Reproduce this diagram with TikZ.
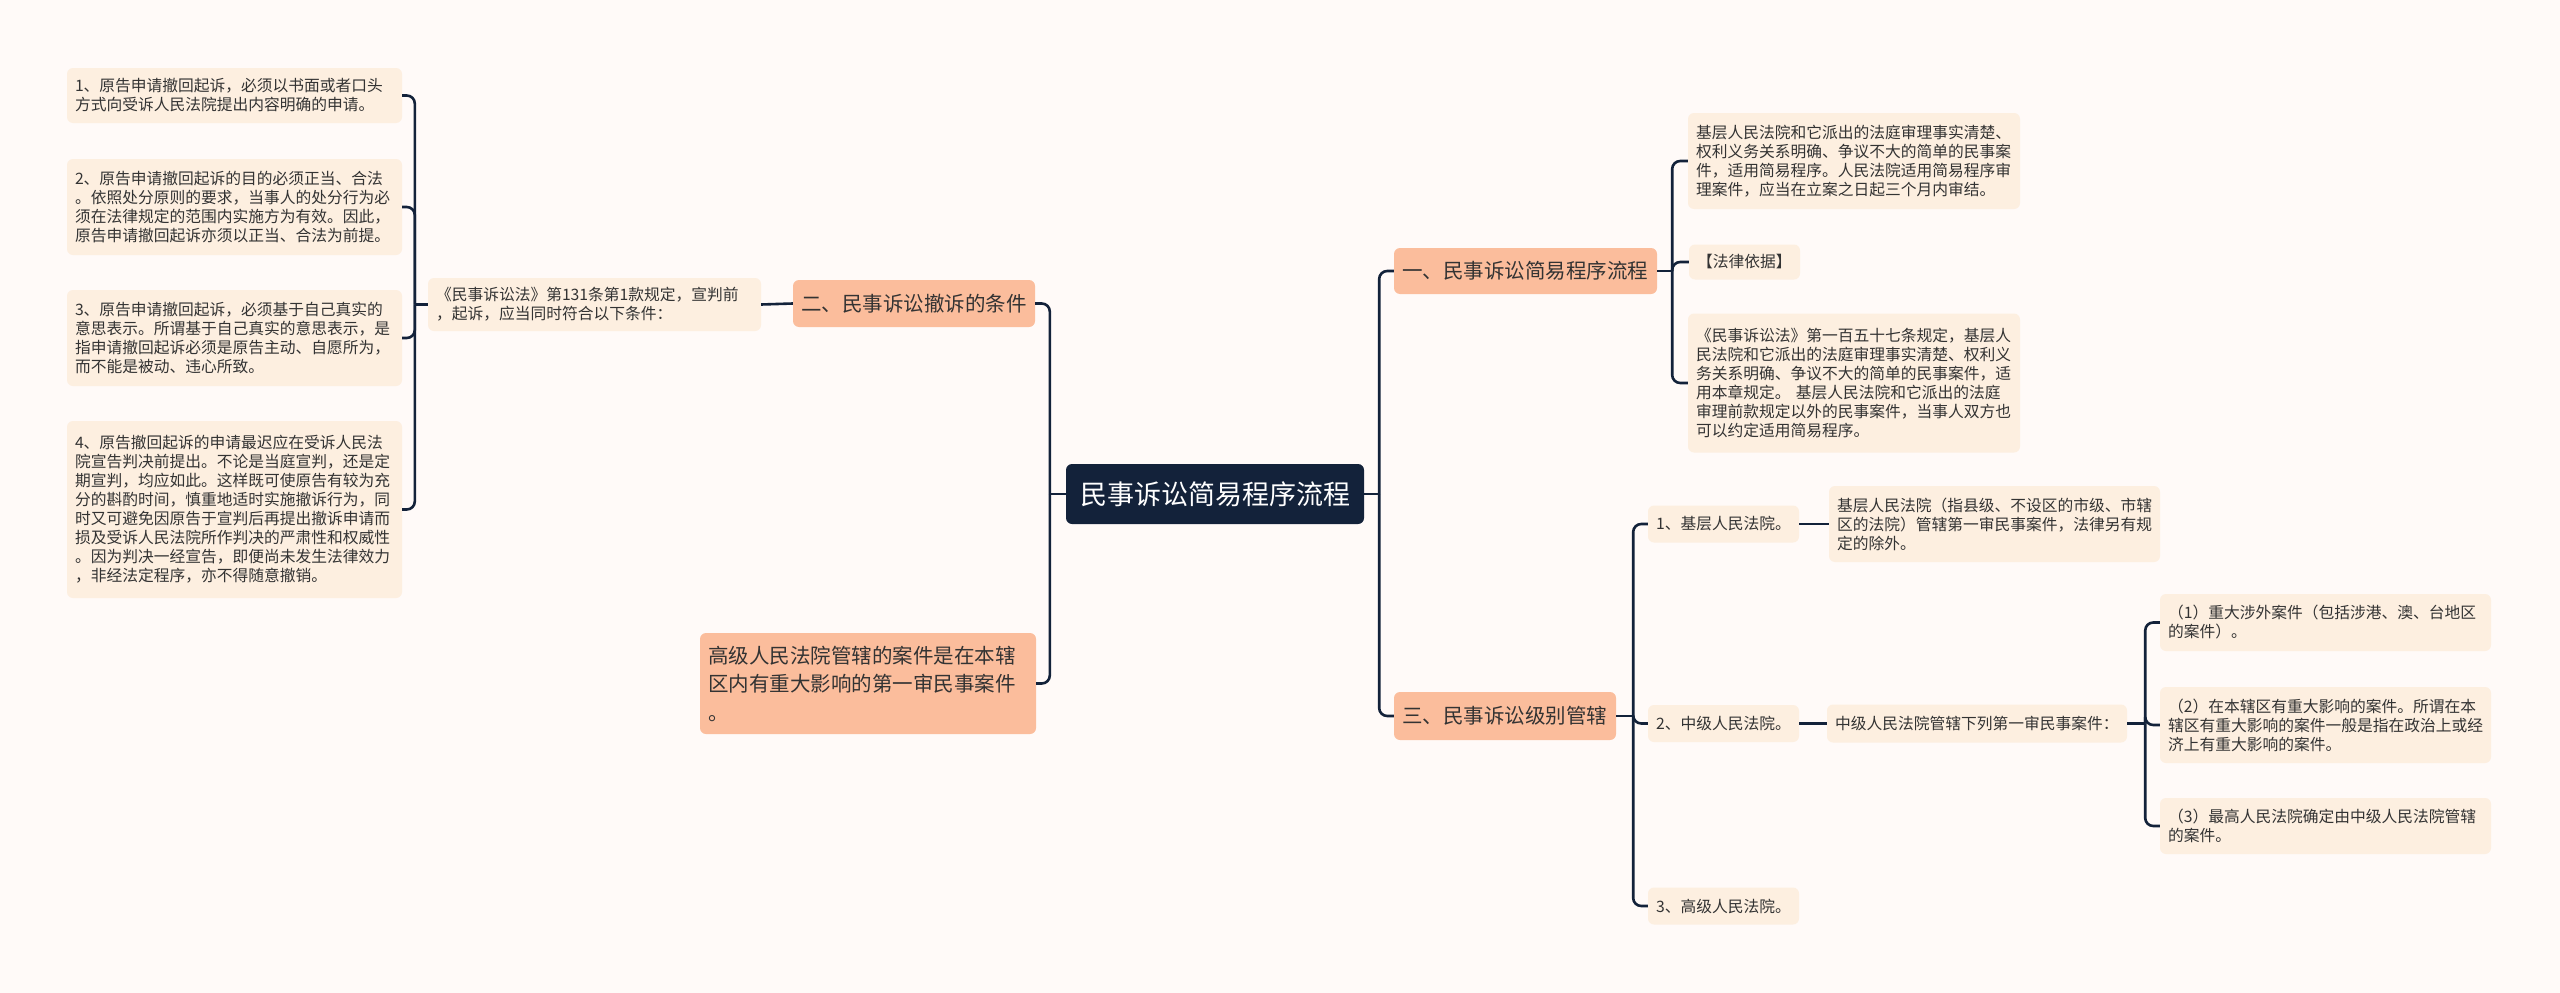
\documentclass[tikz,border=0pt]{standalone}
\usepackage{fontspec}
\setmainfont{Noto Sans CJK SC}
\definecolor{paper}{HTML}{FFFAF8}
\definecolor{navy}{HTML}{13223A}
\definecolor{salmon}{HTML}{FBBD9C}
\definecolor{peach}{HTML}{FDEFE0}
\definecolor{ink}{HTML}{333333}
\usepackage{tikz}

\begin{document}
\begin{tikzpicture}[x=1pt, y=-1pt,
  rootnode/.style={fill=navy, text=white, rounded corners=6pt, minimum width=298pt, minimum height=60pt, inner sep=0pt, font=\fontsize{27pt}{32pt}\selectfont},
  branch/.style={fill=salmon, text=ink, rounded corners=6pt, inner xsep=8pt, inner ysep=3pt, align=left, font=\fontsize{20.5pt}{28.5pt}\selectfont},
  leaf/.style={fill=peach, text=ink, rounded corners=6pt, inner xsep=8pt, inner ysep=3pt, align=left, font=\fontsize{15.75pt}{19pt}\selectfont},
  link/.style={draw=navy, line width=2.6pt, rounded corners=8pt}]
  \fill[paper] (0,0) rectangle (2560,993);
  \useasboundingbox (0,0) rectangle (2560,993);

  \node[rootnode] (root) at (1215,494) {民事诉讼简易程序流程};

  \node[branch, text width=226pt, minimum height=47pt] (cond) at (914,303.5) {二、民事诉讼撤诉的条件};
  \node[branch, text width=320pt, minimum height=101pt] (high) at (868,683.5) {高级人民法院管辖的案件是在本辖\\区内有重大影响的第一审民事案件\\。};
  \node[leaf, text width=317pt, minimum height=53pt] (law) at (594.5,304.5) {《民事诉讼法》第131条第1款规定，宣判前\\，起诉，应当同时符合以下条件：};
  \node[leaf, text width=319pt, minimum height=55pt] (c1) at (234.5,95.5) {1、原告申请撤回起诉，必须以书面或者口头\\方式向受诉人民法院提出内容明确的申请。};
  \node[leaf, text width=319pt, minimum height=96pt] (c2) at (234.5,207) {2、原告申请撤回起诉的目的必须正当、合法\\。依照处分原则的要求，当事人的处分行为必\\须在法律规定的范围内实施方为有效。因此，\\原告申请撤回起诉亦须以正当、合法为前提。};
  \node[leaf, text width=319pt, minimum height=96pt] (c3) at (234.5,338) {3、原告申请撤回起诉，必须基于自己真实的\\意思表示。所谓基于自己真实的意思表示，是\\指申请撤回起诉必须是原告主动、自愿所为，\\而不能是被动、违心所致。};
  \node[leaf, text width=319pt, minimum height=177pt] (c4) at (234.5,509.5) {4、原告撤回起诉的申请最迟应在受诉人民法\\院宣告判决前提出。不论是当庭宣判，还是定\\期宣判，均应如此。这样既可使原告有较为充\\分的斟酌时间，慎重地适时实施撤诉行为，同\\时又可避免因原告于宣判后再提出撤诉申请而\\损及受诉人民法院所作判决的严肃性和权威性\\。因为判决一经宣告，即便尚未发生法律效力\\，非经法定程序，亦不得随意撤销。};

  \node[branch, text width=247pt, minimum height=46pt] (simple) at (1525.5,271) {一、民事诉讼简易程序流程};
  \node[leaf, text width=316pt, minimum height=96pt] (s1) at (1854,161) {基层人民法院和它派出的法庭审理事实清楚、\\权利义务关系明确、争议不大的简单的民事案\\件，适用简易程序。人民法院适用简易程序审\\理案件，应当在立案之日起三个月内审结。};
  \node[leaf, text width=95pt, minimum height=35pt] (s2) at (1744.5,262) {【法律依据】};
  \node[leaf, text width=316pt, minimum height=139pt] (s3) at (1854,383) {《民事诉讼法》第一百五十七条规定，基层人\\民法院和它派出的法庭审理事实清楚、权利义\\务关系明确、争议不大的简单的民事案件，适\\用本章规定。 基层人民法院和它派出的法庭\\审理前款规定以外的民事案件，当事人双方也\\可以约定适用简易程序。};

  \node[branch, text width=206pt, minimum height=48pt] (level) at (1505,716) {三、民事诉讼级别管辖};
  \node[leaf, text width=135pt, minimum height=37pt] (basic) at (1723.5,524) {1、基层人民法院。};
  \node[leaf, text width=135pt, minimum height=37pt] (mid) at (1723.5,723.5) {2、中级人民法院。};
  \node[leaf, text width=135pt, minimum height=37pt] (top) at (1723.5,906) {3、高级人民法院。};
  \node[leaf, text width=315pt, minimum height=76pt] (basicnote) at (1994.5,524) {基层人民法院（指县级、不设区的市级、市辖\\区的法院）管辖第一审民事案件，法律另有规\\定的除外。};
  \node[leaf, text width=284pt, minimum height=38pt] (midnote) at (1977,723.5) {中级人民法院管辖下列第一审民事案件：};
  \node[leaf, text width=315pt, minimum height=57pt] (m1) at (2325.5,622.5) {（1）重大涉外案件（包括涉港、澳、台地区\\的案件）。};
  \node[leaf, text width=315pt, minimum height=76pt] (m2) at (2325.5,725) {（2）在本辖区有重大影响的案件。所谓在本\\辖区有重大影响的案件一般是指在政治上或经\\济上有重大影响的案件。};
  \node[leaf, text width=315pt, minimum height=56pt] (m3) at (2325.5,826) {（3）最高人民法院确定由中级人民法院管辖\\的案件。};

  \draw[link] (root.west) -- ++(-16,0) coordinate (jl);
  \draw[link] (jl) |- (cond.east);
  \draw[link] (jl) |- (high.east);
  \draw[link] (cond.west) -- (law.east);
  \draw[link] (law.west) -- ++(-13,0) coordinate (jlaw);
  \foreach \c in {c1,c2,c3,c4}
    \draw[link] (jlaw) |- (\c.east);

  \draw[link] (root.east) -- ++(15,0) coordinate (jr);
  \draw[link] (jr) |- (simple.west);
  \draw[link] (jr) |- (level.west);
  \draw[link] (simple.east) -- ++(15,0) coordinate (jsim);
  \foreach \s in {s1,s2,s3}
    \draw[link] (jsim) |- (\s.west);
  \draw[link] (level.east) -- ++(17,0) coordinate (jlev);
  \foreach \s in {basic,mid,top}
    \draw[link] (jlev) |- (\s.west);
  \draw[link] (basic.east) -- (basicnote.west);
  \draw[link] (mid.east) -- (midnote.west);
  \draw[link] (midnote.east) -- ++(18,0) coordinate (jmid);
  \foreach \m in {m1,m2,m3}
    \draw[link] (jmid) |- (\m.west);
\end{tikzpicture}
\end{document}
